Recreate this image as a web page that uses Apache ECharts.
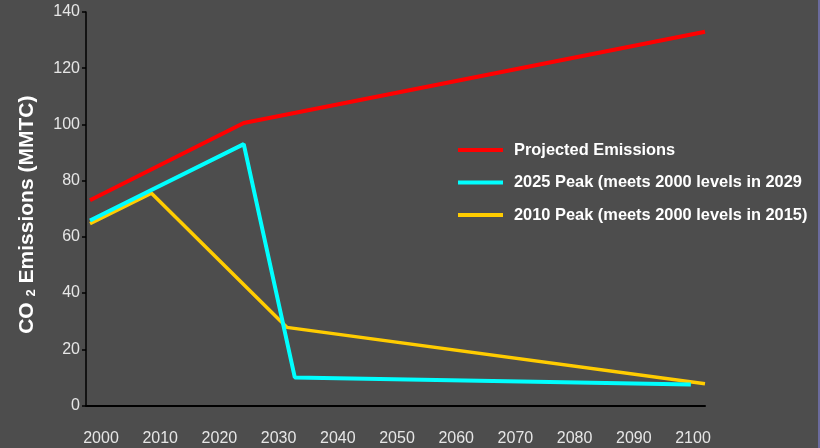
<!DOCTYPE html>
<html>
<head>
<meta charset="utf-8">
<script src="https://cdn.jsdelivr.net/npm/echarts@6/dist/echarts.min.js"></script>
<style>
html,body{margin:0;padding:0;background:#4d4d4d;}
#c{width:820px;height:448px;}
</style>
</head>
<body>
<div id="c"></div>
<script>
// Data
const seriesNames = ['Projected Emissions', '2025 Peak (meets 2000 levels in 2029', '2010 Peak (meets 2000 levels in 2015)'];
const redYears = [2000, 2025, 2100];
const redValues = [73, 100.5, 133];
const cyanYears = [2000, 2025, 2033.3, 2097.7];
const cyanValues = [65.8, 93, 10, 7.5];
const yellowYears = [2000, 2010, 2032, 2100];
const yellowValues = [64.7, 75.5, 27.8, 7.7];
const xTickLabels = [2000, 2010, 2020, 2030, 2040, 2050, 2060, 2070, 2080, 2090, 2100];
const yTicks = [0, 20, 40, 60, 80, 100, 120, 140];

const pairs = (xs, ys) => xs.map((x, i) => [x, ys[i]]);

const chart = echarts.init(document.getElementById('c'), null, {renderer: 'canvas'});
const font = '"Liberation Sans", Arial, sans-serif';
chart.setOption({
  backgroundColor: '#4d4d4d',
  animation: false,
  graphic: [{type: 'rect', shape: {x: 818, y: 0, width: 2, height: 448}, style: {fill: '#6b6b9e'}}],
  grid: [
    {left: 86, right: 115, top: 12, bottom: 42.5},
    {left: 101, right: 127, top: 12, bottom: 42.5}
  ],
  legend: {
    orient: 'vertical',
    left: 458,
    top: 140,
    padding: 0,
    icon: 'rect',
    itemWidth: 45,
    itemHeight: 4,
    itemGap: 12.5,
    data: seriesNames,
    textStyle: {color: '#ffffff', fontFamily: font, fontWeight: 'bold', fontSize: 16.4, lineHeight: 20, padding: [0, 0, 0, 6]}
  },
  xAxis: [
    {type: 'value', gridIndex: 0, min: 1999.35, max: 2100,
     axisLine: {show: true, lineStyle: {color: '#000', width: 2}},
     axisTick: {show: false}, axisLabel: {show: false}, splitLine: {show: false}},
    {type: 'value', gridIndex: 1, min: 2000, max: 2100, interval: 10,
     axisLine: {show: false}, axisTick: {show: false}, splitLine: {show: false},
     axisLabel: {color: '#e6e6e6', fontFamily: font, fontSize: 16, margin: 25,
       formatter: v => xTickLabels.includes(v) ? String(v) : ''}}
  ],
  yAxis: [
    {type: 'value', gridIndex: 0, min: 0, max: 140, interval: 20,
     axisLine: {show: true, lineStyle: {color: '#000', width: 1.5}},
     axisTick: {show: true, length: 4, lineStyle: {color: '#000', width: 1.5}},
     splitLine: {show: false},
     axisLabel: {color: '#e6e6e6', fontFamily: font, fontSize: 16, margin: 6,
       formatter: v => yTicks.includes(v) ? String(v) : ''},
     name: 'CO {b|2} Emissions (MMTC)',
     nameLocation: 'middle', nameRotate: 90, nameGap: 48,
     nameTextStyle: {color: '#ffffff', fontFamily: font, fontWeight: 'bold', fontSize: 21, padding: [0, 12, 0, 0],
       rich: {b: {fontSize: 13, fontWeight: 'bold', color: '#ffffff', fontFamily: font, verticalAlign: 'bottom', padding: [9, 0, 0, 0]}}}},
    {type: 'value', gridIndex: 1, min: 0, max: 140, show: false}
  ],
  series: [
    {name: seriesNames[0], type: 'line', xAxisIndex: 0, yAxisIndex: 0, symbol: 'none',
     lineStyle: {color: '#ff0000', width: 4}, itemStyle: {color: '#ff0000'}, data: pairs(redYears, redValues)},
    {name: seriesNames[2], type: 'line', xAxisIndex: 0, yAxisIndex: 0, symbol: 'none',
     lineStyle: {color: '#ffcc00', width: 3.5}, itemStyle: {color: '#ffcc00'}, data: pairs(yellowYears, yellowValues)},
    {name: seriesNames[1], type: 'line', xAxisIndex: 0, yAxisIndex: 0, symbol: 'none',
     lineStyle: {color: '#00ffff', width: 4}, itemStyle: {color: '#00ffff'}, data: pairs(cyanYears, cyanValues)},
    {type: 'line', xAxisIndex: 1, yAxisIndex: 1, data: [], silent: true}
  ]
});
</script>
</body>
</html>
